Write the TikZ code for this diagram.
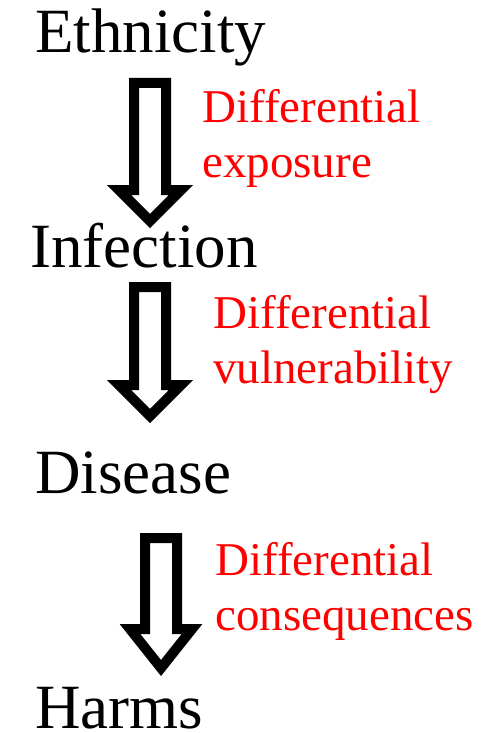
\documentclass[tikz,border=0pt]{standalone}
\usepackage{fontspec}
\setmainfont{Liberation Serif}
\tikzset{
  x=1pt, y=-1pt,
  term/.style={anchor=base west, inner sep=0pt, text depth=0pt, font=\fontsize{63}{63}\selectfont, text=black},
  note/.style={anchor=base west, inner sep=0pt, align=left, text=red, font=\fontsize{47}{55}\selectfont},
  blockarrow/.style={draw=black, fill=white, line width=10pt, miter limit=10},
  pics/downarrow/.style n args={2}{code={
    \draw[blockarrow] (-16,0) -- (16,0) -- (16,#1) -- (31,#1) -- (0,#1+#2) -- (-31,#1) -- (-16,#1) -- cycle;
  }}
}
\begin{document}
\begin{tikzpicture}
\useasboundingbox (0,0) rectangle (494,733);
\node[term] (eth) at (35,53) {Ethnicity};
\node[term] (inf) at (30,267) {Infection};
\node[term] (dis) at (35,493) {Disease};
\node[term] (har) at (35,728) {Harms};
\coordinate (a1) at (150,83);
\coordinate (a2) at (150,287);
\coordinate (a3) at (161,538);
\pic at (a1) {downarrow={107}{31}};
\pic at (a2) {downarrow={98}{31}};
\pic at (a3) {downarrow={91}{39}};
\node[note] (n1) at (202,177) {Differential\\exposure};
\node[note] (n2) at (213,383) {Differential\\vulnerability};
\node[note] (n3) at (215,630) {Differential\\consequences};
\end{tikzpicture}
\end{document}
